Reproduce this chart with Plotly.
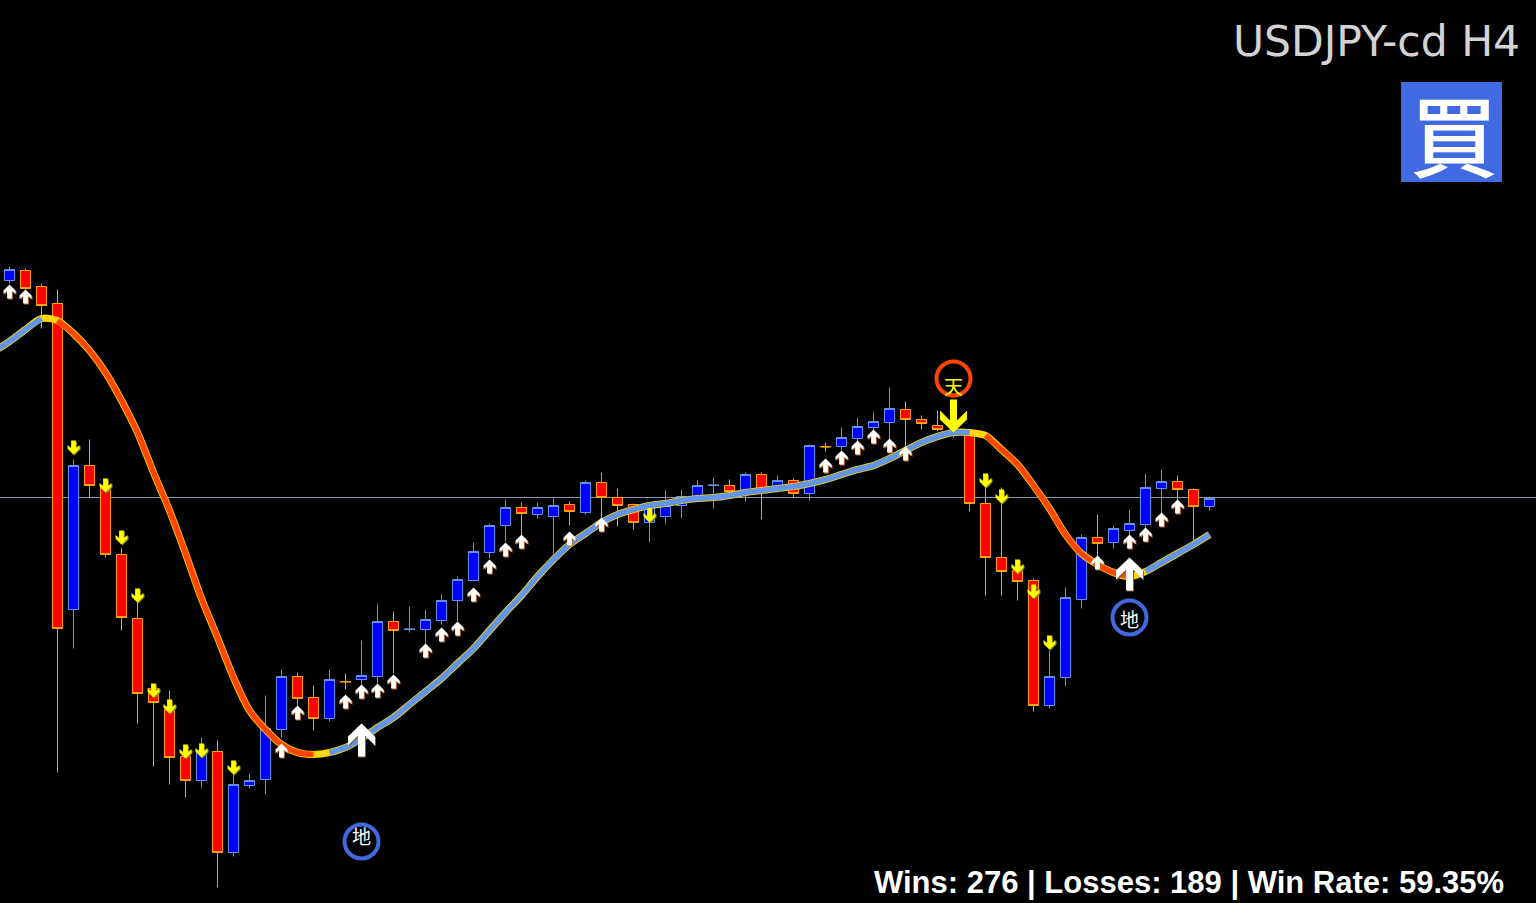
import plotly.graph_objects as go

# Values are read from the picture in chart units (the price scale itself is not shown).
candle_idx = list(range(76))
open_ = [623,633,617,600,294,438,417,349,285,215,194,147,123,152,51,118,124,174,227,206,185,222,224,227,282,274,274,283,303,323,351,378,396,389,387,399,391,421,406,399,381,387,398,406,418,418,413,429,413,423,410,457,457,465,476,481,494,484,478,472,471,400,346,333,323,198,226,304,366,361,373,379,415,422,414,397]
high = [637,635,620,614,444,464,425,355,303,219,213,155,166,163,138,130,208,234,231,218,234,230,263,299,292,297,294,309,327,361,380,404,401,401,405,402,423,431,415,400,400,413,414,423,426,424,431,431,428,425,459,461,476,486,491,516,502,488,493,478,473,421,416,343,325,253,316,369,389,378,394,430,434,428,415,407]
low = [620,614,575,131,255,406,346,273,180,137,119,106,116,16,47,115,109,166,198,173,182,214,218,220,230,271,259,279,282,322,345,362,368,385,350,378,389,385,377,374,361,380,385,403,395,407,402,384,411,406,403,452,453,461,472,463,456,474,472,466,392,308,308,303,192,195,217,295,343,355,363,376,388,403,363,393]
close = [634,615,598,275,438,418,349,286,210,201,146,123,153,51,119,123,175,227,205,185,224,221.6,228,282,273,274.4,284,303,324,352,378,396,390,396,398,392,421,406,398,381,398,398,407,418,418.4,412,429,413,423,410,458,456.6,466,477,482,495,484,480,474,470,400,346,332,322,198,227,306,366,360,375,380,416,422,414,397,405]

ma_idx = list(range(-1, 76))
ma = [552,562,574,585,583,570,553,531,503,471,431,393,350,305,266,226,193,174,159,151,149,151,156,165,176,186,199,212,225,240,255,273,291,308,327,344,359,370,381,389,394,398,400,403,405,406,408,411,413,415,417,420,424,429,434,438,445,453,461,467,471,471,468,454,439,418,395,369,350,339,331,327,332,341,350,359,369]
blue_spans = [(-1, 2), (20, 60), (71, 75)]
orange_spans = [(3, 19), (61, 70)]

current_price = 406

small_up_idx = [0,1,17,18,21,22,23,24,26,27,28,29,30,31,32,35,37,51,52,53,54,55,56,68,70,71,72,73]
small_up_val = [619,614,160,198,209,219,220,229,260,276,282,316,344,361,369,372,386,445,453,463,474,465,457,348,369,376,391,404]
small_down_idx = [4,6,7,8,9,10,11,12,14,40,61,62,63,64,65]
small_down_val = [449,411,359,301,206,190,145,146,129,381,416,400,330,305,254]
big_up_idx = [22,70]
big_up_val = [180,346]
big_down_idx = [59]
big_down_val = [471]

ring_idx = [22,70,59]
ring_val = [62,286,525]
ring_col = ["#4169E1","#4169E1","#FF4500"]
label_idx = [22,70,59]
label_val = [68,285,518]
label_txt = ["地","地","天"]
label_col = ["#FFFFFF","#FFFFFF","#FFFF00"]

W, H = 1536, 903
fig = go.Figure()

fig.add_trace(go.Candlestick(
    x=candle_idx, open=open_, high=high, low=low, close=close,
    increasing=dict(line=dict(color="#6495ED", width=1), fillcolor="#0000FF"),
    decreasing=dict(line=dict(color="#FFA500", width=1), fillcolor="#FF0000"),
    whiskerwidth=0, showlegend=False, hoverinfo="skip"))

fig.add_trace(go.Scatter(x=ma_idx, y=ma, mode="lines",
    line=dict(color="#FFD700", width=7.2, shape="spline", smoothing=0.8), hoverinfo="skip"))

def span_trace(spans, color):
    xs, ys = [], []
    for a, b in spans:
        for i in range(a, b + 1):
            xs.append(i)
            ys.append(ma[i + 1])
        xs.append(None)
        ys.append(None)
    return go.Scatter(x=xs, y=ys, mode="lines",
                      line=dict(color=color, width=5.6, shape="spline", smoothing=0.8), hoverinfo="skip")

fig.add_trace(span_trace(blue_spans, "#6495ED"))
fig.add_trace(span_trace(orange_spans, "#FF4500"))

fig.add_trace(go.Scatter(x=ring_idx, y=ring_val, mode="markers",
    marker=dict(symbol="circle-open", size=34, color=ring_col, line=dict(width=4, color=ring_col)),
    hoverinfo="skip"))

BIG_ARROW = [(0,0),(13.5,-13),(13.5,-22),(3.5,-12),(3.5,-33),(-3.5,-33),(-3.5,-12),(-13.5,-22),(-13.5,-13)]
SMALL_ARROW = [(0,0),(6,-6),(6,-9.5),(2.4,-6.5),(2.4,-14),(-2.4,-14),(-2.4,-6.5),(-6,-9.5),(-6,-6)]

def arrow_path(pts, sign, dx=0, dy=0):
    return "M" + " L".join(f"{px+dx:.1f},{sign*py+dy:.1f}" for px, py in pts) + " Z"

def add_arrow(i, v, pts, sign, color, shadow):
    common = dict(type="path", xref="x", yref="y", xsizemode="pixel", ysizemode="pixel",
                  xanchor=i, yanchor=v, line=dict(width=0))
    if shadow:
        fig.add_shape(path=arrow_path(pts, sign, 1, -1), fillcolor=shadow, **common)
    fig.add_shape(path=arrow_path(pts, sign), fillcolor=color, **common)

for i, v in zip(small_up_idx, small_up_val):
    add_arrow(i, v, SMALL_ARROW, 1, "#FFFFFF", "#B8641E")
for i, v in zip(small_down_idx, small_down_val):
    add_arrow(i, v, SMALL_ARROW, -1, "#FFFF00", "#8A8A00")
for i, v in zip(big_up_idx, big_up_val):
    add_arrow(i, v, BIG_ARROW, 1, "#FFFFFF", "#8A5A30")
for i, v in zip(big_down_idx, big_down_val):
    add_arrow(i, v, BIG_ARROW, -1, "#FFFF00", None)

fig.add_shape(type="line", xref="paper", yref="y", x0=0, x1=1, y0=current_price, y1=current_price,
              line=dict(color="#8A97A5", width=1), layer="below")
fig.add_shape(type="rect", xref="paper", yref="paper",
              x0=1401/W, x1=1502/W, y0=1-182/H, y1=1-82/H,
              fillcolor="#4169E1", line=dict(width=0))

for i, v, t, c in zip(label_idx, label_val, label_txt, label_col):
    fig.add_annotation(x=i, y=v, text=t, showarrow=False,
                       font=dict(family="Noto Sans CJK JP", size=19, color=c))

fig.add_annotation(xref="paper", yref="paper", x=1522/W, y=1-42/H, xanchor="right", yanchor="middle",
                   text="USDJPY-cd H4", showarrow=False,
                   font=dict(family="DejaVu Sans", size=42.5, color="#D3D3D3"))
fig.add_annotation(xref="paper", yref="paper", x=1454/W, y=1-131/H, xanchor="center", yanchor="middle",
                   text="買", showarrow=False,
                   font=dict(family="Noto Sans CJK JP", size=88, weight=500, color="#FFFFFF"))
fig.add_annotation(xref="paper", yref="paper", x=1506/W, y=1-882/H, xanchor="right", yanchor="middle",
                   text="<b>Wins: 276 | Losses: 189 | Win Rate: 59.35%</b>", showarrow=False,
                   font=dict(family="Liberation Sans", size=31, color="#FFFFFF"))

fig.update_layout(
    width=W, height=H, margin=dict(l=0, r=0, t=0, b=0, pad=0),
    paper_bgcolor="#000000", plot_bgcolor="#000000", showlegend=False, boxgap=0.1,
    xaxis=dict(range=[-9.5/16, (W-9.5)/16], visible=False, rangeslider=dict(visible=False), fixedrange=True),
    yaxis=dict(range=[0.5, H+0.5], visible=False, fixedrange=True),
    hovermode=False)

fig.write_html("out.html", config=dict(displayModeBar=False),
               post_script="document.body.style.margin='0';document.body.style.background='#000';document.documentElement.style.overflow='hidden';")
